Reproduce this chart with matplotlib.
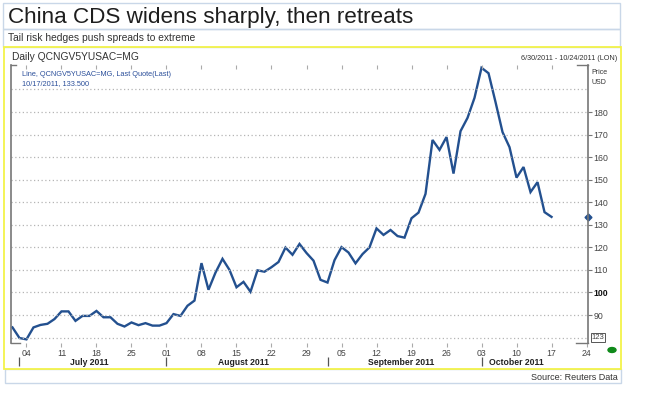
"""Reuters style chart: China 5y CDS, Jun 30 - Oct 24 2011."""

import numpy as np
import pandas as pd
import matplotlib
matplotlib.use("Agg")
import matplotlib.pyplot as plt
from matplotlib.patches import Rectangle
from matplotlib.lines import Line2D

plt.rcParams['font.family'] = ['Liberation Sans', 'DejaVu Sans']

W, H = 660, 407

# daily quotes, business days from 6/30/2011 to 10/17/2011
DATES = pd.bdate_range("2011-06-30", "2011-10-17")
AXIS_DATES = pd.bdate_range("2011-06-30", "2011-10-24")
CDS = [84.5, 79.8, 79.2, 84.5, 85.6, 86.1, 88.2, 91.6, 91.6, 87.4,
       89.6, 89.6, 91.8, 89.0, 89.0, 86.1, 84.9, 86.7, 85.5, 86.4,
       85.3, 85.3, 86.4, 90.4, 89.6, 94.1, 96.4, 113.0, 101.2, 108.8,
       114.9, 110.0, 102.3, 104.7, 100.3, 109.8, 109.2, 111.2, 113.5, 119.9,
       116.7, 121.5, 117.5, 114.1, 105.6, 104.4, 114.3, 120.1, 117.7, 112.9,
       117.0, 120.0, 128.4, 125.5, 127.7, 125.0, 124.3, 132.9, 135.4, 143.7,
       167.6, 163.2, 168.9, 152.7, 171.5, 177.4, 186.3, 199.6, 197.2, 184.4,
       171.1, 164.4, 150.9, 155.6, 144.5, 148.9, 135.6, 133.5]
LAST_QUOTE = 133.5
Y_LABELS = [90, 100, 110, 120, 130, 140, 150, 160, 170, 180]
GRID_LEVELS = [80, 90, 100, 110, 120, 130, 140, 150, 160, 170, 180, 190]
MONTHS = ["July 2011", "August 2011", "September 2011", "October 2011"]

BLUE = '#23508f'
GRAY = '#555555'
BOX = '#c9d7e8'
YELLOW = '#f3f34a'


def fx(px):
    return px / W


def fy(py):
    return 1 - py / H


def box(fig, x0, y0, x1, y1, color, lw=1.0):
    fig.patches.append(Rectangle((fx(x0), fy(y1)), fx(x1) - fx(x0), fy(y0) - fy(y1),
                                 transform=fig.transFigure, fill=False,
                                 edgecolor=color, linewidth=lw))


def seg(fig, x0, y0, x1, y1, color=GRAY, lw=1.0):
    fig.lines.append(Line2D([fx(x0), fx(x1)], [fy(y0), fy(y1)],
                            transform=fig.transFigure, color=color, linewidth=lw))


fig = plt.figure(figsize=(W / 100, H / 100), dpi=100)

# frames
box(fig, 3, 3, 620, 29, BOX)
box(fig, 3, 29, 620, 47, BOX)
box(fig, 5, 369, 621, 383, BOX)
box(fig, 4, 47, 621, 369, YELLOW, lw=1.3)

fig.text(fx(8), fy(17), "China CDS widens sharply, then retreats", fontsize=16.2,
         color='#1e1e1e', va='center', ha='left')
fig.text(fx(8), fy(38), "Tail risk hedges push spreads to extreme", fontsize=7.4,
         color='#333333', va='center', ha='left')
fig.text(fx(618), fy(377), "Source: Reuters Data", fontsize=6.5,
         color='#333333', va='center', ha='right')
fig.text(fx(12), fy(57), "Daily QCNGV5YUSAC=MG", fontsize=7.4,
         color='#333333', va='center', ha='left')
fig.text(fx(617), fy(59), "6/30/2011 - 10/24/2011 (LON)", fontsize=5.2,
         color='#333333', va='center', ha='right')
fig.text(fx(22), fy(74), "Line, QCNGV5YUSAC=MG, Last Quote(Last)", fontsize=5.3,
         color='#2b4f9a', va='center', ha='left')
fig.text(fx(22), fy(84), "10/17/2011, 133.500", fontsize=5.3,
         color='#2b4f9a', va='center', ha='left')
fig.text(fx(591), fy(72), "Price", fontsize=5.0, color='#333333', va='center')
fig.text(fx(591), fy(82), "USD", fontsize=5.0, color='#333333', va='center')

# plot area
left, right, top, bottom = 11, 588, 65, 343
ax = fig.add_axes([fx(left), fy(bottom), fx(right) - fx(left), fy(top) - fy(bottom)])
x = np.arange(len(CDS))
ax.plot(x, CDS, color=BLUE, linewidth=1.7, solid_joinstyle='miter', clip_on=False)
ax.set_xlim(-0.21, 82.21)
ax.set_ylim(77.59, 200.84)

for s in ax.spines.values():
    s.set_visible(False)
ax.hlines(GRID_LEVELS, -0.21, 82.21, colors='#b5b5b5', linewidth=0.9,
          linestyles=(0, (1, 2)))

# axis lines with small corner ticks
seg(fig, left, top, left, bottom, '#777777', 1.2)
seg(fig, left, top, 16, top, '#777777', 1.0)
seg(fig, left, bottom, 20, bottom, '#777777', 1.0)
seg(fig, right, top, right, bottom, '#777777', 1.2)
seg(fig, 577, top, right, top, '#777777', 1.0)
seg(fig, 576, bottom, right, bottom, '#777777', 1.0)

# y ticks on the right
ax.yaxis.tick_right()
ax.set_yticks(Y_LABELS)
ax.set_yticklabels([str(v) for v in Y_LABELS])
ax.tick_params(axis='y', length=3, width=0.8, color='#777777', pad=1,
               labelsize=6.3, labelcolor='#444444')
for lab in ax.get_yticklabels():
    if lab.get_text() == '100':
        lab.set_fontweight('bold')
        lab.set_color('#111111')
ax.text(1.006, 80, "123", transform=ax.get_yaxis_transform(), fontsize=5.5,
        color='#444444', va='center', ha='left',
        bbox=dict(boxstyle='square,pad=0.12', fc='white', ec='#555555', lw=0.7))
ax.plot([82.21], [LAST_QUOTE], marker='D', markersize=3.5, color=BLUE, clip_on=False)

# weekly ticks on Mondays
mondays = [i for i, d in enumerate(AXIS_DATES) if d.weekday() == 0]
ax.set_xticks(mondays)
ax.set_xticklabels([AXIS_DATES[i].strftime('%d') for i in mondays])
ax.tick_params(axis='x', length=3, width=0.8, color='#aaaaaa', pad=1.5,
               labelsize=6.3, labelcolor='#444444')
ax.vlines(mondays, 0.985, 1.0, transform=ax.get_xaxis_transform(),
          colors='#aaaaaa', linewidth=0.8, clip_on=False)

# month labels and separators
month_ids = [d.month for d in AXIS_DATES]
for m, name in zip([7, 8, 9, 10], MONTHS):
    idx = [i for i, mm in enumerate(month_ids) if mm == m]
    start = idx[0]
    if m == 10:
        mid = (idx[0] + 77) / 2
    else:
        mid = (idx[0] + idx[-1]) / 2
    ax.text(mid, -0.07, name, transform=ax.get_xaxis_transform(), fontsize=6.2,
            fontweight='bold', color='#222222', ha='center', va='center')
    ax.vlines(start, -0.05, -0.083, transform=ax.get_xaxis_transform(),
              colors='#555555', linewidth=0.9, clip_on=False)

# status dot
fig.patches.append(plt.Circle((fx(612), fy(350)), 4 / W, transform=fig.transFigure,
                              color='#0f8a1a'))

fig.savefig("out.png", dpi=100)
